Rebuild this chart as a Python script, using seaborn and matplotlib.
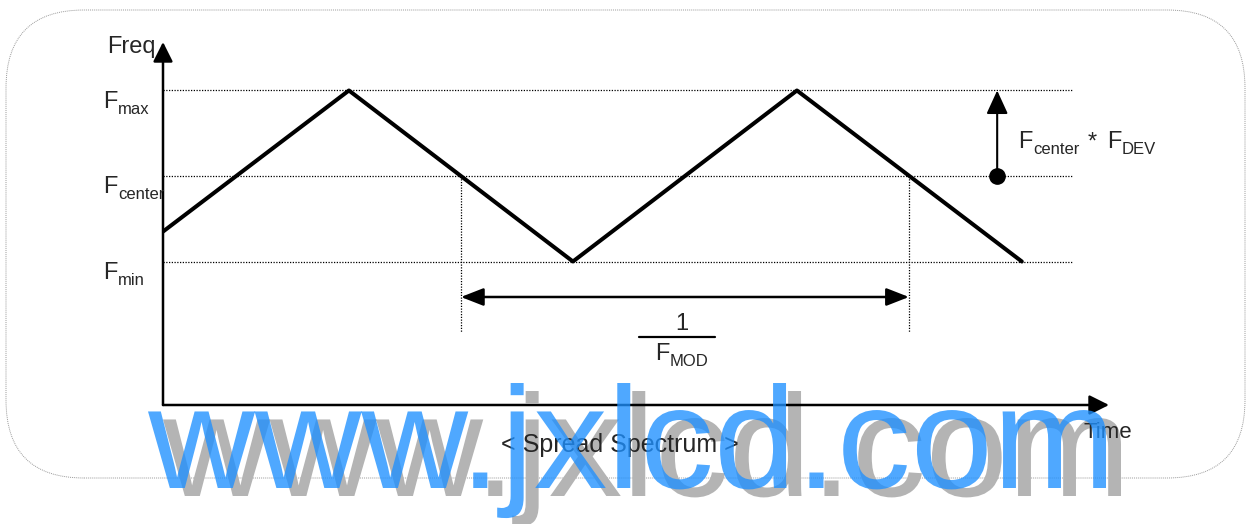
import numpy as np
import pandas as pd
import matplotlib
matplotlib.use("Agg")
import matplotlib.pyplot as plt
import seaborn as sns
from matplotlib.patches import FancyBboxPatch, PathPatch
from matplotlib.textpath import TextPath
from matplotlib.font_manager import FontProperties
from matplotlib.transforms import Affine2D

# Dados do diagrama (tempo em periodos de modulacao, freq em unidades de F_DEV)
wave_time = [0.0, 0.415, 0.915, 1.415, 1.917]
wave_freq = [-0.65, 1.0, -1.0, 1.0, -1.0]
level_freq = [1.0, 0.0, -1.0]
level_subs = ["max", "center", "min"]
mod_start, mod_end = 0.665, 1.665
dev_time = 1.862
watermark = "www.jxlcd.com"

sns.set_theme(style="white")
plt.rcParams["font.family"] = ["Liberation Sans", "DejaVu Sans"]

W, H = 1247, 524
PT = 0.72  # pontos por pixel (dpi 100)
fig = plt.figure(figsize=(W / 100, H / 100), dpi=100)
fig.patch.set_facecolor("white")
ax = fig.add_axes([163 / W, (H - 405) / H, (1109 - 163) / W, (405 - 42) / H])
ax.set_xlim(0, 2.1116)
ax.set_ylim(-2.678, 1.567)
ax.axis("off")
ax.patch.set_alpha(0)


def ftext(x, y, parts, size=17, sub_size=12):
    # parts: lista (texto, deslocamento x em px, eh subscrito)
    for s, dx, is_sub in parts:
        ax.annotate(s, xy=(x, y), xytext=(dx * PT, -6 * PT if is_sub else 0),
                    textcoords="offset points", fontsize=sub_size if is_sub else size,
                    ha="left", va="baseline", annotation_clip=False)


# eixos com setas
for end in [(1, 0), (0, 1)]:
    ax.annotate("", xy=end, xytext=(0, 0), xycoords="axes fraction",
                arrowprops=dict(arrowstyle="-|>,head_length=1.0,head_width=0.5",
                                mutation_scale=12, lw=1.8, color="black",
                                shrinkA=0, shrinkB=0))

# linhas pontilhadas dos niveis
dot = (0, (1, 1.2))
for f, sub in zip(level_freq, level_subs):
    ax.plot([0, 2.029], [f, f], color="black", lw=0.9, ls=dot)
    ftext(-0.134, f - 0.2, [("F", 0, False), (sub, 15, True)])

# onda triangular
df = pd.DataFrame({"time": wave_time, "freq": wave_freq})
sns.lineplot(data=df, x="time", y="freq", color="black", lw=2.9,
             estimator=None, ax=ax)
ax.set_xlabel("")
ax.set_ylabel("")

# periodo de modulacao
for t in (mod_start, mod_end):
    ax.plot([t, t], [0, -1.825], color="black", lw=0.9, ls=dot)
ax.annotate("", xy=(mod_end, -1.415), xytext=(mod_start, -1.415),
            arrowprops=dict(arrowstyle="<|-|>,head_length=1.15,head_width=0.45",
                            mutation_scale=12, lw=1.8, color="black",
                            shrinkA=0, shrinkB=0))
frac_x = 1.147
ax.text(frac_x + 0.01, -1.80, "1", fontsize=17, ha="center", va="baseline")
ax.plot([frac_x - 0.085, frac_x + 0.085], [-1.883, -1.883], color="black", lw=1.6)
ftext(frac_x - 0.049, -2.152, [("F", 0, False), ("MOD", 15, True)])

# desvio
ax.plot([dev_time], [0], "o", ms=11, color="black")
ax.annotate("", xy=(dev_time, 1.0), xytext=(dev_time, 0),
            arrowprops=dict(arrowstyle="-|>,head_length=1.2,head_width=0.55",
                            mutation_scale=12, lw=1.5, color="black",
                            shrinkA=0, shrinkB=0))
ftext(1.908, 0.327, [("F", 0, False), ("center", 15, True), ("*", 70, False),
                     ("F", 89, False), ("DEV", 104, True)])

ax.text(-0.125, 1.44, "Freq", fontsize=17, ha="left", va="baseline")
ax.text(2.054, -3.064, "Time", fontsize=16, ha="left", va="baseline", clip_on=False)
ax.text(1.02, -3.228, "< Spread Spectrum >", fontsize=18, ha="center",
        va="baseline", clip_on=False)

# moldura arredondada
frame = FancyBboxPatch((0.06, 0.46), 12.39, 4.68,
                       boxstyle="round,pad=0,rounding_size=0.78",
                       transform=fig.dpi_scale_trans, facecolor="none",
                       edgecolor="#9a9a9a", lw=0.7, ls=(0, (1, 1)), zorder=-3)
fig.add_artist(frame)

# marca d'agua: sombra cinza por baixo, azul translucido por cima
tp = TextPath((0, 0), watermark, size=1, prop=FontProperties(family="Liberation Sans"))
ext = tp.get_extents()
sx = 9.58 / ext.width
sy = 1.05 / ext.y1
tx = 1.48 - ext.x0 * sx
ty = (H - 488) / 100
for dx, dy, col, a, z in [(0.15, -0.08, "#b4b4b4", 1.0, -2), (0, 0, "#1e90ff", 0.78, 6)]:
    tr = Affine2D().scale(sx, sy).translate(tx + dx, ty + dy) + fig.dpi_scale_trans
    fig.add_artist(PathPatch(tp, transform=tr, facecolor=col, edgecolor="none",
                             alpha=a, zorder=z))

plt.savefig("out.png", dpi=100)
